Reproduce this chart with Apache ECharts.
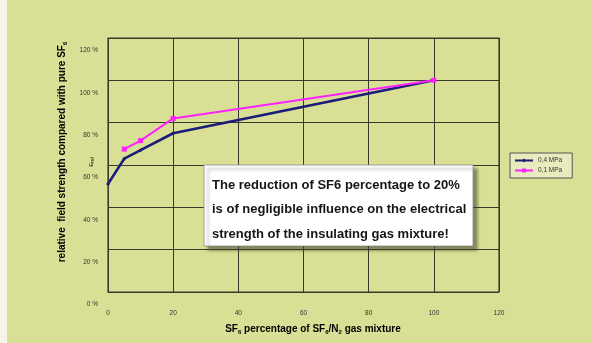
<!DOCTYPE html>
<html>
<head>
<meta charset="utf-8">
<script src="https://cdn.jsdelivr.net/npm/echarts@6/dist/echarts.min.js"></script>
<style>
  html, body { margin: 0; padding: 0; background: #d9df95; }
  #chart { width: 592px; height: 343px; }
</style>
</head>
<body>
<div id="chart"></div>
<script>
// SF6 content of the SF6/N2 mixture (%)
const sf6Share = [0, 5, 10, 20, 100];
// Relative field strength E_rel compared with pure SF6 (%)
const eRel04MPa = [51, 63, 67, 75, 100];
const eRel01MPa = [null, 67.5, 71.5, 82, 100];
const seriesNames = ['0,4 MPa', '0,1 MPa'];
const xTicks = [0, 20, 40, 60, 80, 100, 120];
const yTicks = [0, 20, 40, 60, 80, 100, 120];
const noteLines = [
  'The reduction of SF6 percentage to 20%',
  'is of negligible influence on the electrical',
  'strength of the insulating gas mixture!'
];

const chart = echarts.init(document.getElementById('chart'));
const font = 'Liberation Sans, Arial, sans-serif';
const gridColor = '#3a3a2a';

const pairs = (xs, ys) => xs.map((x, i) => [x, ys[i]]).filter(p => p[1] !== null);

const sub = { fontSize: 6, fontWeight: 'bold', fontFamily: font, color: '#222', padding: [6, 0, 0, 0] };
const main = { fontSize: 10, fontWeight: 'bold', fontFamily: font, color: '#222' };

chart.setOption({
  backgroundColor: '#d9df95',
  animation: false,
  grid: {
    left: 108, right: 93, top: 38, bottom: 51,
    show: true, borderColor: gridColor, borderWidth: 1.2,
    backgroundColor: 'transparent'
  },
  legend: {
    orient: 'vertical',
    left: 510, top: 153,
    padding: [4, 10, 4, 4],
    itemGap: 3,
    itemWidth: 18, itemHeight: 5,
    backgroundColor: '#e7ebbd',
    borderColor: '#555',
    borderWidth: 1,
    borderRadius: 0,
    textStyle: { fontSize: 6.5, fontFamily: font, color: '#333' },
    data: seriesNames
  },
  xAxis: {
    type: 'value',
    min: xTicks[0], max: xTicks[xTicks.length - 1], interval: 20,
    axisLine: { show: false },
    axisTick: { show: false },
    splitLine: { show: true, lineStyle: { color: gridColor, width: 1 } },
    axisLabel: {
      margin: 18, fontSize: 6.5, fontFamily: font, color: '#333',
      customValues: xTicks
    }
  },
  yAxis: {
    type: 'value',
    min: yTicks[0], max: yTicks[yTicks.length - 1], interval: 20,
    axisLine: { show: false },
    axisTick: { show: false },
    splitLine: { show: true, lineStyle: { color: gridColor, width: 1 } },
    axisLabel: {
      margin: 10, fontSize: 6.5, fontFamily: font, color: '#333',
      verticalAlign: 'top', padding: [9, 0, 0, 0],
      formatter: v => v + ' %'
    }
  },
  series: [
    {
      name: seriesNames[0], type: 'line',
      data: pairs(sf6Share, eRel04MPa),
      symbol: 'diamond', symbolSize: 4,
      lineStyle: { color: '#1b1b78', width: 2.6 },
      itemStyle: { color: '#1b1b78' }
    },
    {
      name: seriesNames[1], type: 'line',
      data: pairs(sf6Share, eRel01MPa),
      symbol: 'rect', symbolSize: 5,
      lineStyle: { color: '#ff22ff', width: 2 },
      itemStyle: { color: '#ff22ff' }
    }
  ],
  graphic: [
    // left margin strip
    { type: 'rect', shape: { x: 0, y: 0, width: 7, height: 343 }, style: { fill: '#f4f5e6' }, silent: true },
    // y axis title
    {
      type: 'text', x: 62, y: 152, rotation: Math.PI / 2,
      style: {
        text: '{m|relative  field strength compared with pure SF}{s|6}',
        rich: { m: main, s: sub },
        align: 'center', verticalAlign: 'middle'
      }
    },
    // E_rel symbol beside the axis
    {
      type: 'text', x: 91, y: 162, rotation: Math.PI / 2,
      style: {
        text: '{m|E}{s|rel}',
        rich: { m: { fontSize: 6, fontFamily: font, color: '#333' }, s: { fontSize: 5, fontFamily: font, color: '#333', padding: [3, 0, 0, 0] } },
        align: 'center', verticalAlign: 'middle'
      }
    },
    // x axis title
    {
      type: 'text', x: 313, y: 329,
      style: {
        text: '{m|SF}{s|6}{m| percentage of SF}{s|6}{m|/N}{s|2}{m| gas mixture}',
        rich: { m: main, s: sub },
        align: 'center', verticalAlign: 'middle'
      }
    },
    // note box
    {
      type: 'rect', shape: { x: 204, y: 165, width: 269, height: 81 },
      style: { fill: '#ffffff', stroke: '#8a8a8a', lineWidth: 0.8, shadowColor: 'rgba(60,60,40,0.55)', shadowOffsetX: 4, shadowOffsetY: 4, shadowBlur: 3 },
      z: 10
    },
    {
      type: 'text', x: 212, y: 185, z: 11,
      style: { text: noteLines[0], fontSize: 13, fontWeight: 'bold', fontFamily: font, fill: '#151515', verticalAlign: 'middle' }
    },
    {
      type: 'text', x: 212, y: 209.5, z: 11,
      style: { text: noteLines[1], fontSize: 13, fontWeight: 'bold', fontFamily: font, fill: '#151515', verticalAlign: 'middle' }
    },
    {
      type: 'text', x: 212, y: 234, z: 11,
      style: { text: noteLines[2], fontSize: 13, fontWeight: 'bold', fontFamily: font, fill: '#151515', verticalAlign: 'middle' }
    }
  ]
});
</script>
</body>
</html>
